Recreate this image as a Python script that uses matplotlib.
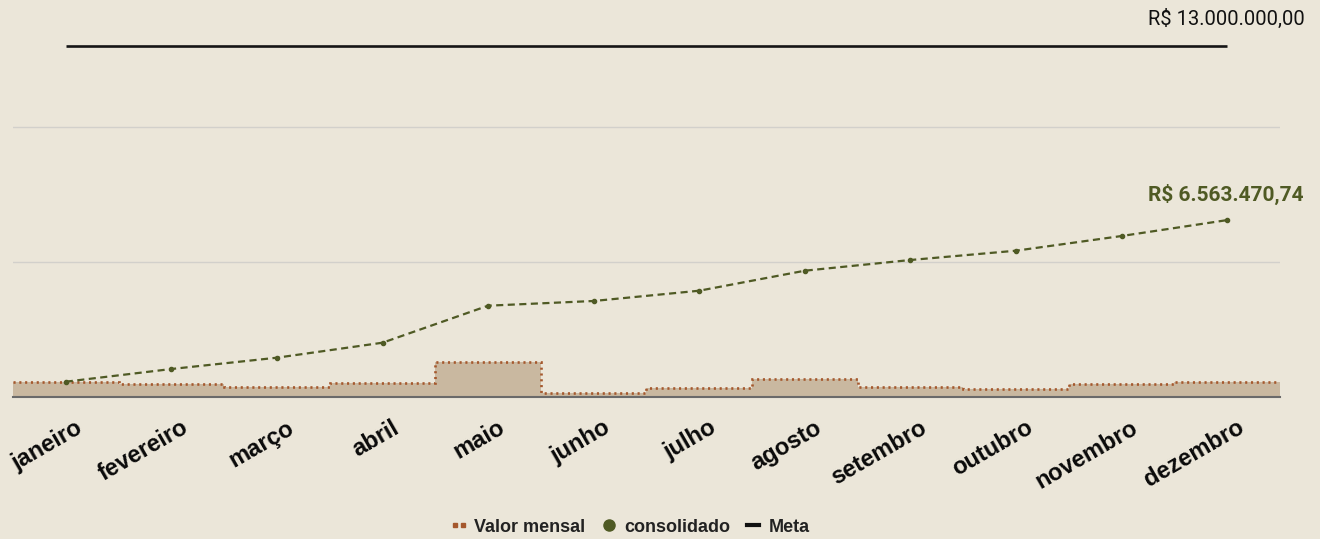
import matplotlib
matplotlib.use("Agg")
import matplotlib.pyplot as plt
from matplotlib.lines import Line2D
from matplotlib.legend_handler import HandlerLine2D
from matplotlib.transforms import offset_copy
import numpy as np

# ---- data ----
months = ["janeiro", "fevereiro", "março", "abril", "maio", "junho",
          "julho", "agosto", "setembro", "outubro", "novembro", "dezembro"]
monthly = [578000, 481000, 393000, 519000, 1322000, 170000,
           356000, 689000, 393000, 296000, 504000, 556000]
consolidated = [578000, 1048000, 1467000, 2022000, 3393000, 3567000,
                3948000, 4689000, 5085000, 5430000, 5974000, 6563470.74]
meta = [13000000] * 12
meta_label = "R$ 13.000.000,00"
final_label = "R$ 6.563.470,74"
legend_labels = ["Valor mensal", "consolidado", "Meta"]

# ---- style ----
W, H = 1320, 539
BG = "#ebe6d9"
OLIVE = "#4f5a24"
BROWN = "#a5582d"
FILL = "#c9b8a0"

fig = plt.figure(figsize=(W / 100, H / 100), dpi=100)
fig.patch.set_facecolor(BG)

base_px = 397.3
px_per_unit = 27.0 / 1e6
ax = fig.add_axes([13 / W, 1 - base_px / H, (1280 - 13) / W, base_px / H])
ax.set_facecolor(BG)
for s in ax.spines.values():
    s.set_visible(False)
ax.set_xlim(-0.5, 11.5)
ax.set_ylim(0, base_px / px_per_unit)
ax.set_xticks([])
ax.set_yticks([])

x = np.arange(len(months))
edges = np.arange(len(months) + 1) - 0.5

# grid lines
for g in (5e6, 10e6):
    ax.axhline(g, color="#d2d0cb", lw=1.0, zorder=1)

# monthly area (step)
ax.stairs(monthly, edges, fill=True, baseline=0, color=FILL, zorder=2)
ax.stairs(monthly, edges, baseline=None, color=BROWN, lw=1.9,
          linestyle=(0, (0.8, 1.4)), zorder=3)

# zero line
ax.axhline(0, color="#6a6a6a", lw=1.5, zorder=4, clip_on=False)

# meta line
ax.plot(x, meta, color="#151515", lw=1.9, zorder=5, solid_capstyle="butt")

# consolidated line
ax.plot(x, consolidated, color=OLIVE, lw=1.6, linestyle=(0, (3.2, 2.0)),
        marker="o", markersize=3, zorder=6)

# labels
ax.annotate(meta_label, xy=(x[-1], meta[-1]), xytext=(56, 19.5),
            textcoords="offset points", ha="right", va="center",
            fontsize=14.5, family="Roboto", color="#111111",
            annotation_clip=False)
ax.annotate(final_label, xy=(x[-1], consolidated[-1]), xytext=(55, 18.4),
            textcoords="offset points", ha="right", va="center",
            fontsize=15, family="Roboto", fontweight="bold", color=OLIVE,
            annotation_clip=False)

# x tick labels rotated
trans = offset_copy(ax.get_xaxis_transform(), fig=fig, x=6.5, y=-13.5,
                    units="points")
for xi, m in zip(x, months):
    ax.text(xi, 0, m, transform=trans, rotation=30, ha="right", va="top",
            rotation_mode="anchor", fontsize=17,
            family="Liberation Sans", fontweight="bold", color="#0a0a0a",
            clip_on=False)

# legend
h_dots = Line2D([], [], color=BROWN, marker="s", markersize=3,
                linestyle="none")
h_circ = Line2D([], [], color=OLIVE, marker="o", markersize=8,
                linestyle="none")
h_meta = Line2D([], [], color="#111111", lw=3)
leg = fig.legend([h_dots, h_circ, h_meta], legend_labels, loc="center",
                 bbox_to_anchor=(631.5 / W, 1 - 527 / H), ncol=3,
                 frameon=False, handlelength=0.65, handletextpad=0.55,
                 columnspacing=0.95, numpoints=1,
                 handler_map={h_dots: HandlerLine2D(numpoints=2,
                                                    marker_pad=0.1)},
                 prop={"family": "Liberation Sans", "weight": "bold",
                       "size": 13})
for t in leg.get_texts():
    t.set_color("#222222")

fig.savefig("out.png", dpi=100, facecolor=BG)
